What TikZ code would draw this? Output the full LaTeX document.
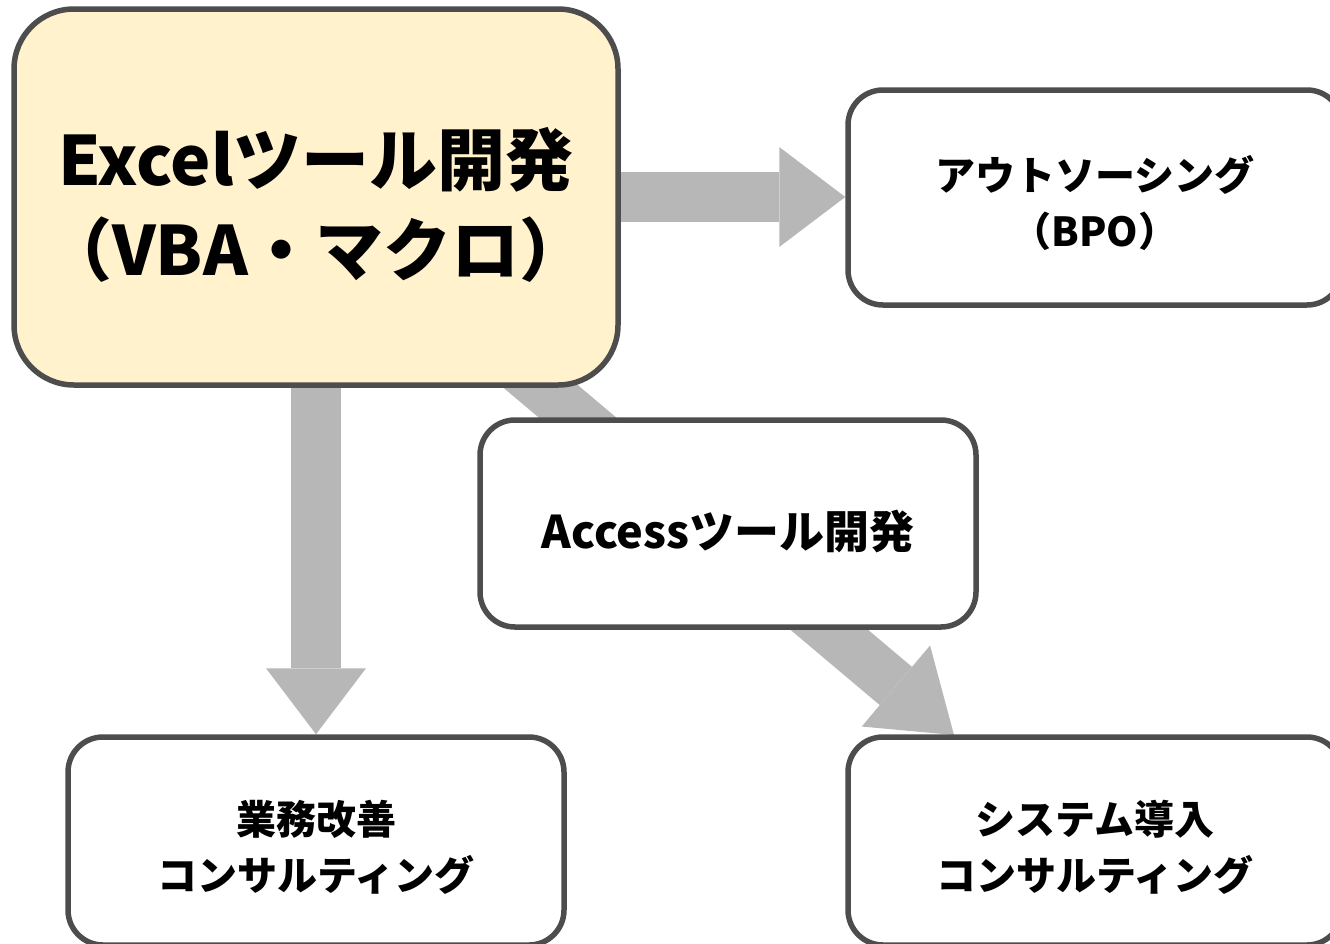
\documentclass[tikz,border=0pt]{standalone}
\usepackage{fontspec}
\newfontfamily\jp{Noto Sans CJK JP}
\usetikzlibrary{arrows.meta,backgrounds}
\definecolor{bordergray}{RGB}{77,77,77}
\definecolor{arrowgray}{RGB}{183,183,183}
\definecolor{excelfill}{RGB}{255,242,204}
\newcommand\toppad[1]{\rule{0pt}{#1}}
\tikzset{
  box/.style={draw=bordergray, line width=5.5pt, rounded corners=35pt, fill=white,
    inner sep=0pt, align=center, font=\jp\bfseries\fontsize{40}{56}\selectfont},
  mainbox/.style={box, fill=excelfill, rounded corners=60pt,
    font=\jp\bfseries\fontsize{68}{90}\selectfont},
  flow/.style={draw=arrowgray, line width=50pt,
    -{Triangle[width=100pt,length=66pt,line width=0pt]}},
  flowdiag/.style={flow, -{Triangle[width=106pt,length=76pt,line width=0pt]}}
}
\begin{document}
\begin{tikzpicture}[x=1pt,y=-1pt]
\useasboundingbox (0,0) rectangle (1330,943);
\node[mainbox, minimum width=604pt, minimum height=376pt] (excel) at (316,197)
  {\toppad{1.1em}Excelツール開発\\（VBA・マクロ）};
\node[box, minimum width=494pt, minimum height=215pt] (bpo) at (1095,197.5)
  {\toppad{1.16em}アウトソーシング\\（BPO）};
\node[box, minimum width=496pt, minimum height=207pt,
  font=\jp\bfseries\fontsize{45}{56}\selectfont] (access) at (728,523.5)
  {\toppad{1.2em}Accessツール開発};
\node[box, minimum width=496pt, minimum height=208pt] (gyomu) at (316,841)
  {\toppad{1.16em}業務改善\\コンサルティング};
\node[box, minimum width=494pt, minimum height=208pt] (sys) at (1095,841)
  {\toppad{1.16em}システム導入\\コンサルティング};
\coordinate (systip) at (954,735);
\begin{scope}[on background layer]
  \draw[flow] (excel.center) -- (excel.center -| bpo.west);
  \draw[flow] (excel.center) -- (excel.center |- gyomu.north);
  \draw[flowdiag] (excel.center) -- (systip);
\end{scope}
\end{tikzpicture}
\end{document}
